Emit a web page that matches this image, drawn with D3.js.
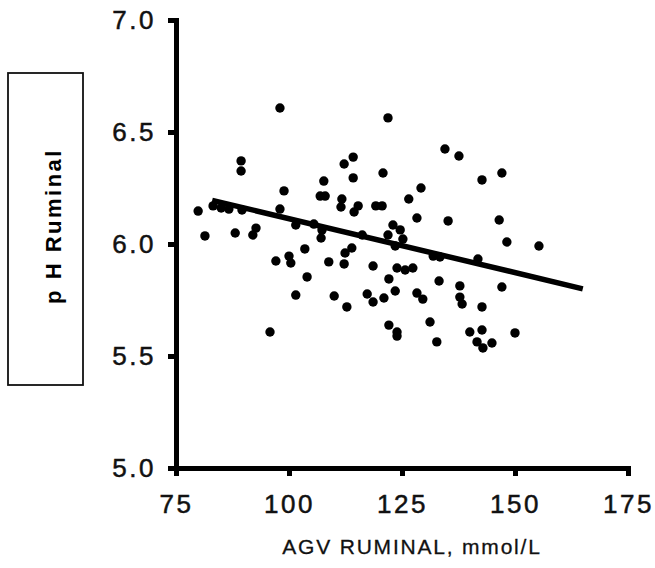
<!DOCTYPE html>
<html>
<head>
<meta charset="utf-8">
<script src="https://cdn.jsdelivr.net/npm/d3@7"></script>
<style>
  body { margin: 0; background: #fff; }
  svg { display: block; }
</style>
</head>
<body>
<div id="chart"></div>
<script>
// AGV ruminal (mmol/L) vs ruminal pH
const agv = [
  79.9, 81.4, 83.2, 85.0, 86.7, 89.6, 88.1, 92.7, 92.0, 89.4,
  89.4, 98.0, 98.9, 98.0, 101.5, 97.1, 100.0, 100.4, 95.8, 101.5,
  104.0, 103.5, 105.5, 107.3, 107.1, 107.7, 106.9, 108.0, 112.2, 114.2,
  114.2, 111.7, 111.5, 115.3, 114.4, 119.2, 120.6, 120.8, 121.9, 116.2,
  113.9, 112.4, 108.8, 112.2, 118.6, 122.1, 110.0, 112.8, 117.3, 118.6,
  121.0, 122.1, 134.5, 137.6, 147.1, 142.7, 129.2, 126.5, 128.3, 135.2,
  146.5, 123.0, 124.6, 121.9, 125.2, 123.5, 148.2, 155.3, 131.9, 133.4,
  141.8, 123.9, 125.7, 127.4, 133.2, 137.8, 147.1, 123.5, 128.3, 129.6,
  137.8, 138.3, 142.7, 131.2, 123.9, 123.9, 140.0, 142.7, 150.0, 132.7,
  141.6, 142.9, 144.9
];
const ph = [
  6.147, 6.036, 6.170, 6.161, 6.156, 6.152, 6.049, 6.071, 6.040, 6.371,
  6.326, 6.607, 6.237, 6.156, 6.085, 5.924, 5.946, 5.915, 5.607, 5.772,
  5.853, 5.978, 6.089, 6.062, 6.027, 6.281, 6.214, 6.214, 6.357, 6.388,
  6.295, 6.201, 6.165, 6.170, 6.143, 6.170, 6.170, 6.317, 6.563, 6.040,
  5.982, 5.960, 5.920, 5.911, 5.902, 5.844, 5.768, 5.719, 5.777, 5.741,
  5.759, 5.638, 6.424, 6.393, 6.317, 6.286, 6.250, 6.201, 6.116, 6.103,
  6.107, 6.085, 6.063, 6.040, 6.022, 5.991, 6.009, 5.991, 5.946, 5.942,
  5.933, 5.893, 5.884, 5.893, 5.835, 5.813, 5.808, 5.790, 5.781, 5.754,
  5.763, 5.732, 5.719, 5.652, 5.607, 5.589, 5.607, 5.616, 5.603, 5.563,
  5.563, 5.536, 5.558
];

// fitted line, end points
const fitX = [83, 165];
const fitY = [6.195, 5.80];

const xTicks = [75, 100, 125, 150, 175];
const yTicks = [5.0, 5.5, 6.0, 6.5, 7.0];

const W = 655, H = 568;
const FONT = "'Liberation Sans', Arial, Helvetica, sans-serif";

const svg = d3.select('#chart').append('svg').attr('width', W).attr('height', H);

const x = d3.scaleLinear().domain([75, 175]).range([176, 628]);
const y = d3.scaleLinear().domain([5, 7]).range([468, 20]);

// y axis
const yAxis = svg.append('g')
  .attr('transform', `translate(${x(75)},0)`)
  .call(d3.axisLeft(y).tickValues(yTicks).tickFormat(d3.format('.1f'))
    .tickSize(8).tickSizeOuter(0).tickPadding(12));

// x axis
const xAxis = svg.append('g')
  .attr('transform', `translate(0,${y(5)})`)
  .call(d3.axisBottom(x).tickValues(xTicks).tickFormat(d3.format('d'))
    .tickSize(8).tickSizeOuter(0).tickPadding(19));

[yAxis, xAxis].forEach(a => {
  a.select('.domain').attr('stroke', '#000').attr('stroke-width', 5).attr('stroke-linecap', 'square');
  a.selectAll('.tick line').attr('stroke', '#000').attr('stroke-width', 5);
  a.selectAll('.tick text')
    .attr('fill', '#111')
    .attr('stroke', '#111')
    .attr('stroke-width', 0.5)
    .style('font-family', FONT)
    .style('font-size', '26px')
    .style('letter-spacing', '2.5px');
});

// points
svg.append('g').selectAll('circle')
  .data(agv.map((v, i) => [v, ph[i]]))
  .join('circle')
  .attr('cx', d => x(d[0]))
  .attr('cy', d => y(d[1]))
  .attr('r', 4.7)
  .attr('fill', '#000');

// regression line
svg.append('path')
  .datum(fitX.map((v, i) => [v, fitY[i]]))
  .attr('d', d3.line().x(d => x(d[0])).y(d => y(d[1])))
  .attr('stroke', '#000')
  .attr('stroke-width', 5.5)
  .attr('fill', 'none');

// x title
svg.append('text')
  .attr('x', 412).attr('y', 554)
  .attr('text-anchor', 'middle')
  .style('font-family', FONT)
  .style('font-size', '21px')
  .style('letter-spacing', '1.8px')
  .attr('fill', '#111')
  .attr('stroke', '#111')
  .attr('stroke-width', 0.3)
  .text('AGV RUMINAL, mmol/L');

// y title in a box
svg.append('rect')
  .attr('x', 8).attr('y', 73).attr('width', 75).attr('height', 312)
  .attr('fill', 'none').attr('stroke', '#111').attr('stroke-width', 1.8);

svg.append('text')
  .attr('transform', 'translate(61,226) rotate(-90)')
  .attr('text-anchor', 'middle')
  .style('font-family', FONT)
  .style('font-weight', 'bold')
  .style('font-size', '22px')
  .style('letter-spacing', '2.5px')
  .attr('fill', '#000')
  .text('p H Ruminal');
</script>
</body>
</html>
